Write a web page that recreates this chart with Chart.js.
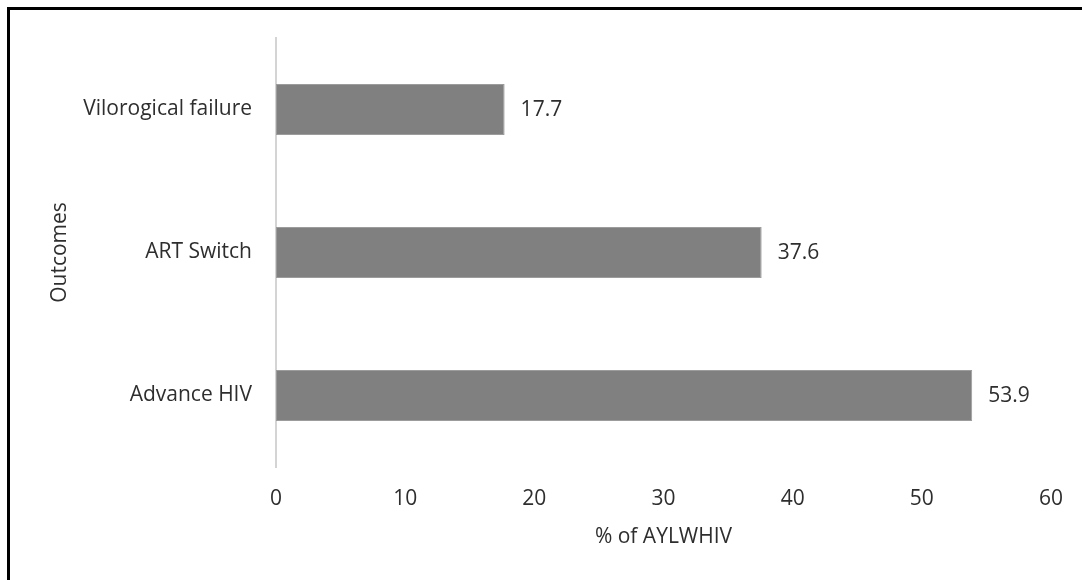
<!DOCTYPE html>
<html>
<head>
<meta charset="utf-8">
<script src="https://cdn.jsdelivr.net/npm/chart.js@4"></script>
<style>
  html, body { margin: 0; padding: 0; background: #fff; }
  #wrap { width: 1082px; height: 580px; }
</style>
</head>
<body>
<div id="wrap"><canvas id="c" width="1082" height="580"></canvas></div>
<script>
// Outcomes among adolescents and young people living with HIV
const outcomes = ['Vilorogical failure', 'ART Switch', 'Advance HIV'];
const percentValues = [17.7, 37.6, 53.9];
const xTicks = [0, 10, 20, 30, 40, 50, 60];

const FONT = '"Open Sans", "Noto Sans", sans-serif';
const SIZE = 21;
const TEXT = '#2e2e2e';

// frame lines along the top and left of the figure
const framePlugin = {
  id: 'frame',
  afterDraw(chart) {
    const ctx = chart.ctx;
    ctx.save();
    ctx.fillStyle = '#000';
    ctx.fillRect(7, 7, 1075, 3);
    ctx.fillRect(7, 7, 3, 573);
    ctx.restore();
  }
};

// value printed just past the end of each bar
const valueLabels = {
  id: 'valueLabels',
  afterDatasetsDraw(chart) {
    const ctx = chart.ctx;
    const meta = chart.getDatasetMeta(0);
    ctx.save();
    ctx.font = SIZE + 'px ' + FONT;
    ctx.fillStyle = TEXT;
    ctx.textAlign = 'left';
    ctx.textBaseline = 'middle';
    meta.data.forEach((bar, i) => {
      ctx.fillText(percentValues[i].toFixed(1), bar.x + 16, bar.y + 1);
    });
    ctx.restore();
  }
};

new Chart(document.getElementById('c'), {
  type: 'bar',
  data: {
    labels: outcomes,
    datasets: [{
      data: percentValues,
      backgroundColor: '#808080',
      borderColor: '#9c9c9c',
      borderWidth: 1,
      borderSkipped: false,
      categoryPercentage: 1,
      barPercentage: 0.357
    }]
  },
  options: {
    indexAxis: 'y',
    responsive: false,
    animation: false,
    devicePixelRatio: 1,
    layout: { padding: { top: 38, right: 28, left: 0, bottom: 0 } },
    plugins: { legend: { display: false }, tooltip: { enabled: false } },
    scales: {
      x: {
        min: 0,
        max: 60,
        afterBuildTicks(scale) { scale.ticks = xTicks.map(v => ({ value: v })); },
        afterFit(scale) { scale.height = 113; },
        grid: { display: false, drawTicks: false },
        border: { display: false },
        ticks: { padding: 19, color: TEXT, font: { family: FONT, size: SIZE } },
        title: {
          display: true,
          text: '% of AYLWHIV',
          color: TEXT,
          font: { family: FONT, size: SIZE },
          padding: { top: 0, bottom: 30 }
        }
      },
      y: {
        afterFit(scale) { scale.width = 276; },
        grid: { display: false, drawTicks: false },
        border: { display: true, color: '#d4d4d4', width: 2 },
        ticks: { padding: 24, color: TEXT, font: { family: FONT, size: SIZE } },
        title: {
          display: true,
          text: 'Outcomes',
          color: TEXT,
          font: { family: FONT, size: SIZE },
          padding: { top: 47, bottom: 0 }
        }
      }
    }
  },
  plugins: [framePlugin, valueLabels]
});
</script>
</body>
</html>
